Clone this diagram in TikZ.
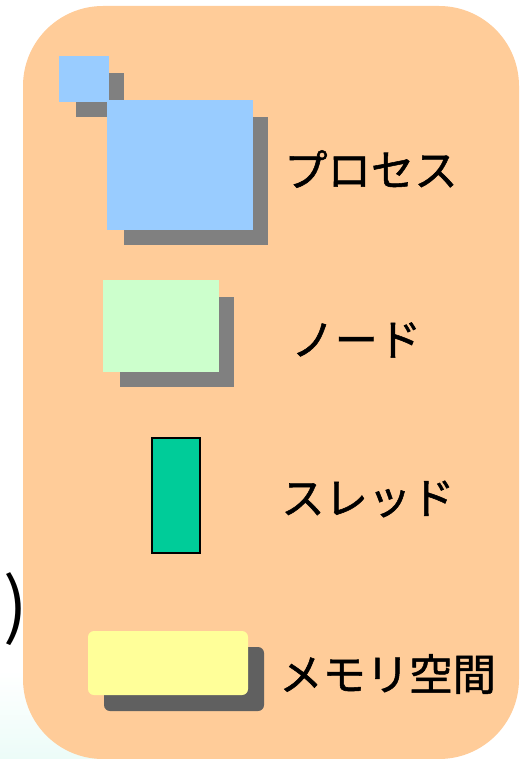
\documentclass[tikz,border=0pt]{standalone}
\usepackage{fontspec}
\newfontfamily\jpfont[FakeBold=1.2]{Noto Sans CJK JP}
\newfontfamily\parenfont{Noto Sans CJK JP}
\definecolor{panel}{HTML}{FFCC99}
\definecolor{procblue}{HTML}{99CCFF}
\definecolor{nodegreen}{HTML}{CCFFCC}
\definecolor{threadgreen}{HTML}{00CC99}
\definecolor{memyellow}{HTML}{FFFF99}
\definecolor{shadowgray}{HTML}{808080}
\definecolor{memshadow}{HTML}{606060}
\definecolor{faintcyan}{RGB}{236,252,248}
\tikzset{
  label/.style={font=\jpfont\fontsize{32.5pt}{36pt}\selectfont, anchor=west, inner sep=0pt, text=black},
  shadowbox/.style={fill=shadowgray},
}
\begin{document}
\begin{tikzpicture}[x=0.75pt,y=-0.75pt]
\useasboundingbox (0,0) rectangle (524,759);
\fill[white] (0,0) rectangle (524,759);
% faint background gradient bottom-left
\shade[top color=white, bottom color=faintcyan] (0,670) rectangle (140,759);
% partially hidden text at left
\node[font=\parenfont\fontsize{54pt}{60pt}\selectfont, inner sep=0pt] (paren) at (16,609) {)};
% panel
\fill[panel, rounded corners=60pt] (23,6) rectangle (519,759);
% process: small + large squares with shadows
\fill[shadowbox] (76,73) rectangle (124,117);
\fill[procblue] (59,56) rectangle (109,102);
\fill[shadowbox] (124,117) rectangle (268,245);
\fill[procblue] (107,100) rectangle (253,230);
% node
\fill[shadowbox] (120,297) rectangle (234,387);
\fill[nodegreen] (103,280) rectangle (219,372);
% thread
\draw[fill=threadgreen, line width=1.2pt] (152,438) rectangle (200,553);
% memory space
\fill[memshadow, rounded corners=4.5pt] (104,647) rectangle (264,711);
\fill[memyellow, rounded corners=4.5pt] (88,631) rectangle (248,695);
% labels
\node[label] (lproc) at (284,169) {プロセス};
\node[label] (lnode) at (291,340) {ノード};
\node[label] (lthread) at (281,499) {スレッド};
\node[label] (lmem) at (279,674) {メモリ空間};
\end{tikzpicture}
\end{document}
